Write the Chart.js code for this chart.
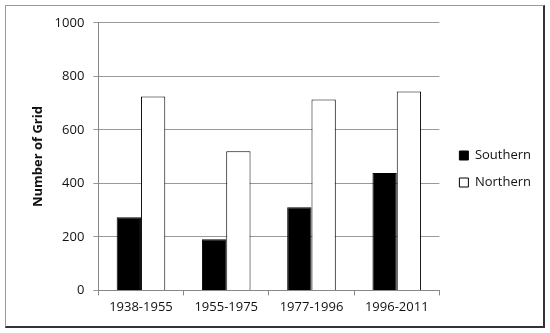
<!DOCTYPE html>
<html>
<head>
<meta charset="utf-8">
<script src="https://cdn.jsdelivr.net/npm/chart.js@4/dist/chart.umd.min.js"></script>
<style>
  body { margin: 0; background: #fff; }
  #frame {
    position: absolute; left: 5px; top: 5px; width: 537px; height: 320px;
    border-top: 1px solid #9a9a9a; border-left: 1px solid #9a9a9a;
    border-right: 2px solid #333; border-bottom: 2px solid #333;
  }
</style>
</head>
<body>
<div id="frame"><canvas id="grid-chart"></canvas></div>
<script>
const periods = ['1938-1955', '1955-1975', '1977-1996', '1996-2011'];
const southern = [273, 191, 311, 439];
const northern = [725, 520, 713, 743];
const yTicks = [0, 200, 400, 600, 800, 1000];

Chart.defaults.font.family = '"Open Sans", sans-serif';
Chart.defaults.font.size = 13;
Chart.defaults.color = '#111';

// nudge the legend a few pixels to the right after layout
const legendShift = {
  id: 'legendShift',
  afterLayout(chart) {
    chart.legend.left += 6;
    chart.legend.right += 6;
  }
};

const ctx = document.getElementById('grid-chart').getContext('2d');
const gridChart = new Chart(ctx, {
  type: 'bar',
  data: {
    labels: periods,
    datasets: [{
      label: 'Southern',
      data: southern,
      backgroundColor: '#000',
      borderColor: '#000',
      borderWidth: 1
    }, {
      label: 'Northern',
      data: northern,
      backgroundColor: '#fff',
      borderColor: '#000',
      borderWidth: 1
    }]
  },
  options: {
    responsive: true,
    maintainAspectRatio: false,
    animation: false,
    categoryPercentage: 0.57,
    barPercentage: 1,
    layout: { padding: { top: 13, right: 8, left: 24, bottom: 7 } },
    plugins: {
      legend: {
        position: 'right',
        labels: {
          boxWidth: 9,
          boxHeight: 9,
          padding: 14,
          color: '#111',
          font: { size: 13 }
        }
      },
      tooltip: { enabled: false }
    },
    scales: {
      x: {
        grid: { offset: true, drawOnChartArea: false, color: '#888', tickLength: 5 },
        border: { color: '#888' },
        ticks: { padding: 4 }
      },
      y: {
        min: 0,
        max: 1000,
        afterBuildTicks: axis => { axis.ticks = yTicks.map(v => ({ value: v })); },
        grid: { color: '#999', tickLength: 5 },
        border: { color: '#888' },
        ticks: { padding: 9, callback: v => String(v) },
        title: {
          display: true,
          text: 'Number of Grid',
          font: { size: 13, weight: 'bold' },
          padding: { top: 0, bottom: 0 }
        }
      }
    }
  },
  plugins: [legendShift]
});
</script>
</body>
</html>
